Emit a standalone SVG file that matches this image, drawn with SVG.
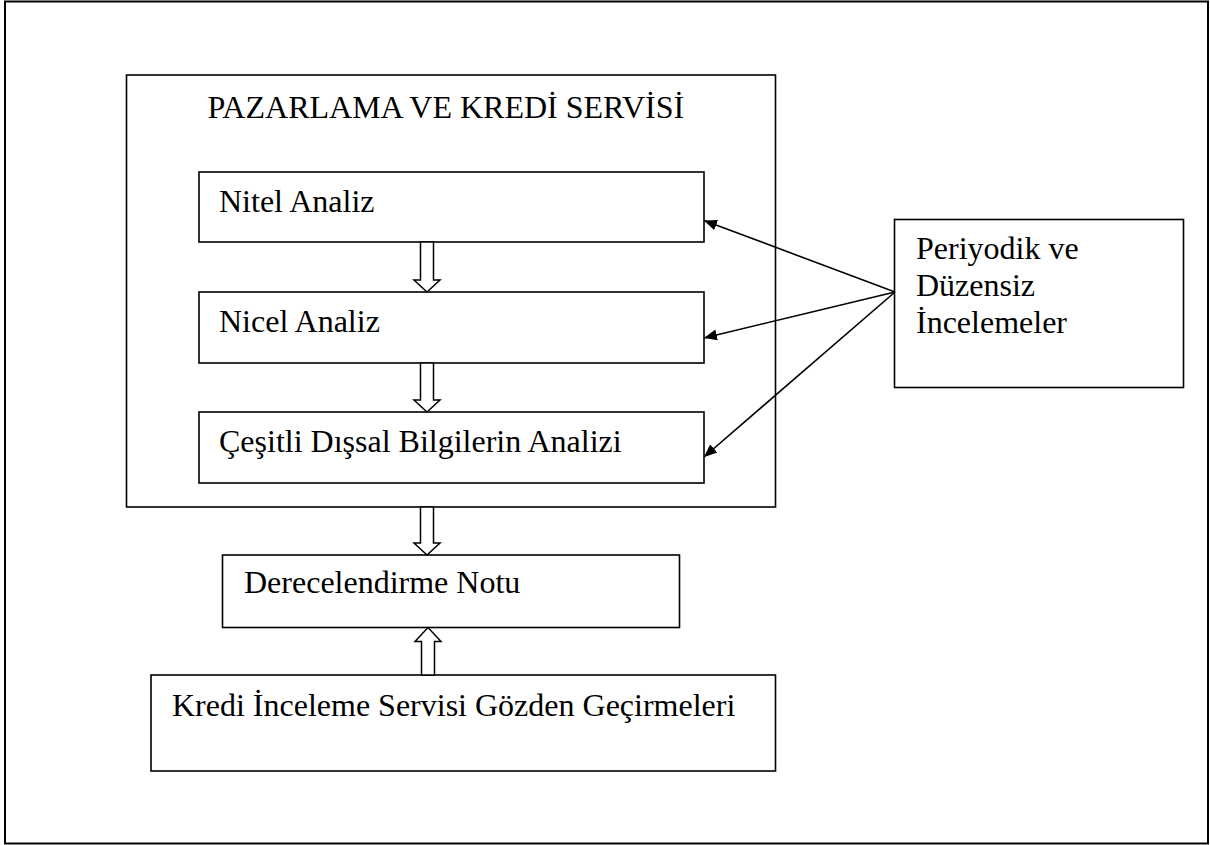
<svg xmlns="http://www.w3.org/2000/svg" width="1210" height="845" viewBox="0 0 1210 845">
<style>
.box{fill:#fff;stroke:#000;stroke-width:1.6}
.frame{fill:#fff;stroke:#000;stroke-width:2}
.t{font-family:"Liberation Serif","Times New Roman",serif;font-size:32px;fill:#000}
.blk{fill:#fff;stroke:#000;stroke-width:1.5;stroke-linejoin:miter}
.ln{stroke:#000;stroke-width:1.6;fill:none}
</style>
<defs>
<marker id="ah" markerUnits="userSpaceOnUse" markerWidth="14" markerHeight="12" refX="13" refY="5.5" orient="auto">
<path d="M0,0 L13,5.5 L0,11 z" fill="#000"/>
</marker>
</defs>
<rect x="0" y="0" width="1210" height="845" fill="#fff"/>
<rect class="frame" x="5" y="1.5" width="1203" height="842"/>
<g id="main">
<rect class="box" x="126.5" y="75" width="649" height="432"/>
<text class="t" x="207.5" y="118">PAZARLAMA VE KREDİ SERVİSİ</text>
</g>
<g id="nitel">
<rect class="box" x="199" y="172" width="505" height="70"/>
<text class="t" x="219" y="212">Nitel Analiz</text>
</g>
<g id="nicel">
<rect class="box" x="199" y="292" width="505" height="71"/>
<text class="t" x="219" y="332">Nicel Analiz</text>
</g>
<g id="cesitli">
<rect class="box" x="199" y="412" width="505" height="71"/>
<text class="t" x="219" y="452">Çeşitli Dışsal Bilgilerin Analizi</text>
</g>
<g id="derece">
<rect class="box" x="222.5" y="555" width="457" height="72.5"/>
<text class="t" x="244" y="593">Derecelendirme Notu</text>
</g>
<g id="kredi">
<rect class="box" x="151" y="675" width="624.5" height="96"/>
<text class="t" x="172" y="716">Kredi İnceleme Servisi Gözden Geçirmeleri</text>
</g>
<g id="periyodik">
<rect class="box" x="894.5" y="219.5" width="289" height="168"/>
<text class="t" x="916" y="259">Periyodik ve</text>
<text class="t" x="916" y="296">Düzensiz</text>
<text class="t" x="916" y="333">İncelemeler</text>
</g>
<g id="connectors">
<polygon class="blk" points="420.5,242 433.5,242 433.5,280 440,280 427,292 414,280 420.5,280"/>
<polygon class="blk" points="420.5,363 433.5,363 433.5,400 440,400 427,412 414,400 420.5,400"/>
<polygon class="blk" points="420.5,507 433.5,507 433.5,543 440,543 427,555 414,543 420.5,543"/>
<polygon class="blk" points="421.5,675 434.5,675 434.5,641.5 441,641.5 428,627.5 415,641.5 421.5,641.5"/>
<line class="ln" x1="895" y1="292" x2="704" y2="220.5" marker-end="url(#ah)"/>
<line class="ln" x1="895" y1="292" x2="704" y2="338" marker-end="url(#ah)"/>
<line class="ln" x1="895" y1="292" x2="704" y2="457" marker-end="url(#ah)"/>
</g>
</svg>
